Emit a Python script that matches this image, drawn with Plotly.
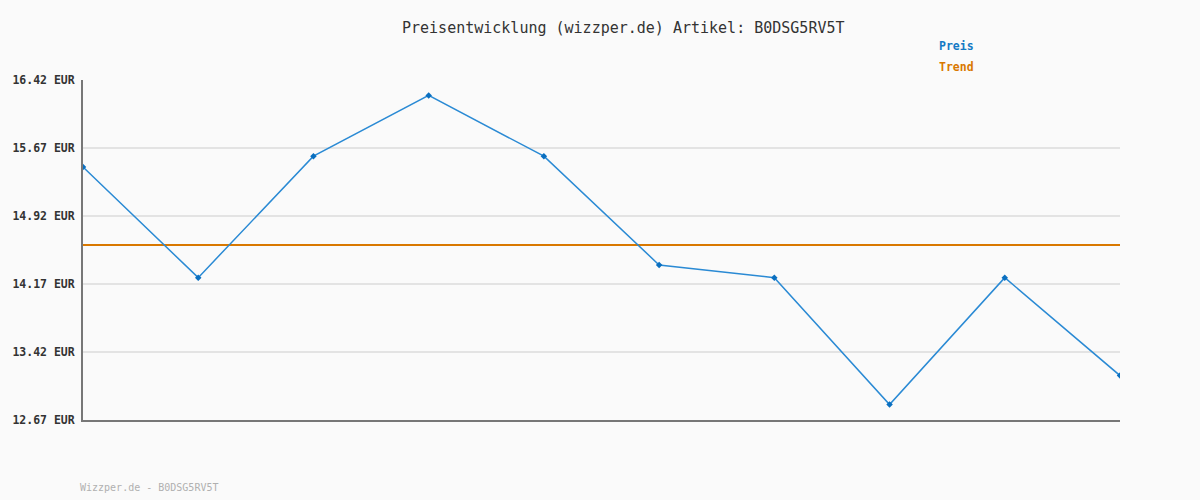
import plotly.graph_objects as go

x_idx = list(range(10))
preis = [15.46, 14.24, 15.58, 16.25, 15.58, 14.38, 14.24, 12.84, 14.24, 13.16]
trend_value = 14.60
y_ticks = [12.67, 13.42, 14.17, 14.92, 15.67, 16.42]
y_ticklabels = ["<b>%.2f EUR</b>" % v for v in y_ticks]

FONT = "DejaVu Sans Mono"
BLUE_LINE = "#2a8ad4"
BLUE_TXT = "#1479c4"
ORANGE = "#d97800"

fig = go.Figure()
fig.add_trace(go.Scatter(
    x=x_idx, y=[trend_value] * len(x_idx), mode="lines",
    line=dict(color=ORANGE, width=2), name="Trend", hoverinfo="skip"))
fig.add_trace(go.Scatter(
    x=x_idx, y=preis, mode="lines+markers",
    line=dict(color=BLUE_LINE, width=1.5),
    marker=dict(color="#0a6fc0", size=5, symbol="diamond"),
    name="Preis"))

fig.update_layout(
    width=1200, height=500,
    paper_bgcolor="#fafafa", plot_bgcolor="#fafafa",
    margin=dict(l=80, r=80, t=80, b=80),
    showlegend=False,
    font=dict(family=FONT, color="#333333"),
    xaxis=dict(range=[0, 9], showgrid=False, showticklabels=False, ticks="",
               zeroline=False, showline=True, linecolor="#777777", linewidth=2),
    yaxis=dict(range=[12.67, 16.42], tickvals=y_ticks, ticktext=y_ticklabels,
               showgrid=True, gridcolor="#e3e3e3", gridwidth=2, zeroline=False,
               showline=True, linecolor="#777777", linewidth=2, ticks="",
               ticklabelstandoff=4,
               tickfont=dict(family=FONT, size=11.5, color="#333333")),
    annotations=[
        dict(text="Preisentwicklung (wizzper.de) Artikel: B0DSG5RV5T",
             xref="paper", yref="paper", x=(622 - 80) / 1040, y=1 + 52 / 340,
             xanchor="center", yanchor="middle", showarrow=False,
             font=dict(family=FONT, size=15, color="#333333")),
        dict(text="<b>Preis</b>", xref="paper", yref="paper",
             x=(936 - 80) / 1040, y=1 + 34 / 340, xanchor="left", yanchor="middle",
             showarrow=False, font=dict(family=FONT, size=11.5, color=BLUE_TXT)),
        dict(text="<b>Trend</b>", xref="paper", yref="paper",
             x=(936 - 80) / 1040, y=1 + 13 / 340, xanchor="left", yanchor="middle",
             showarrow=False, font=dict(family=FONT, size=11.5, color=ORANGE)),
        dict(text="Wizzper.de - B0DSG5RV5T", xref="paper", yref="paper",
             x=-5 / 1040, y=-67 / 340, xanchor="left", yanchor="middle",
             showarrow=False, font=dict(family=FONT, size=10, color="#b0b0b0")),
    ],
)

fig.write_html("out.html", config={"displayModeBar": False},
               post_script="document.body.style.margin='0';document.body.style.background='#fafafa';")
